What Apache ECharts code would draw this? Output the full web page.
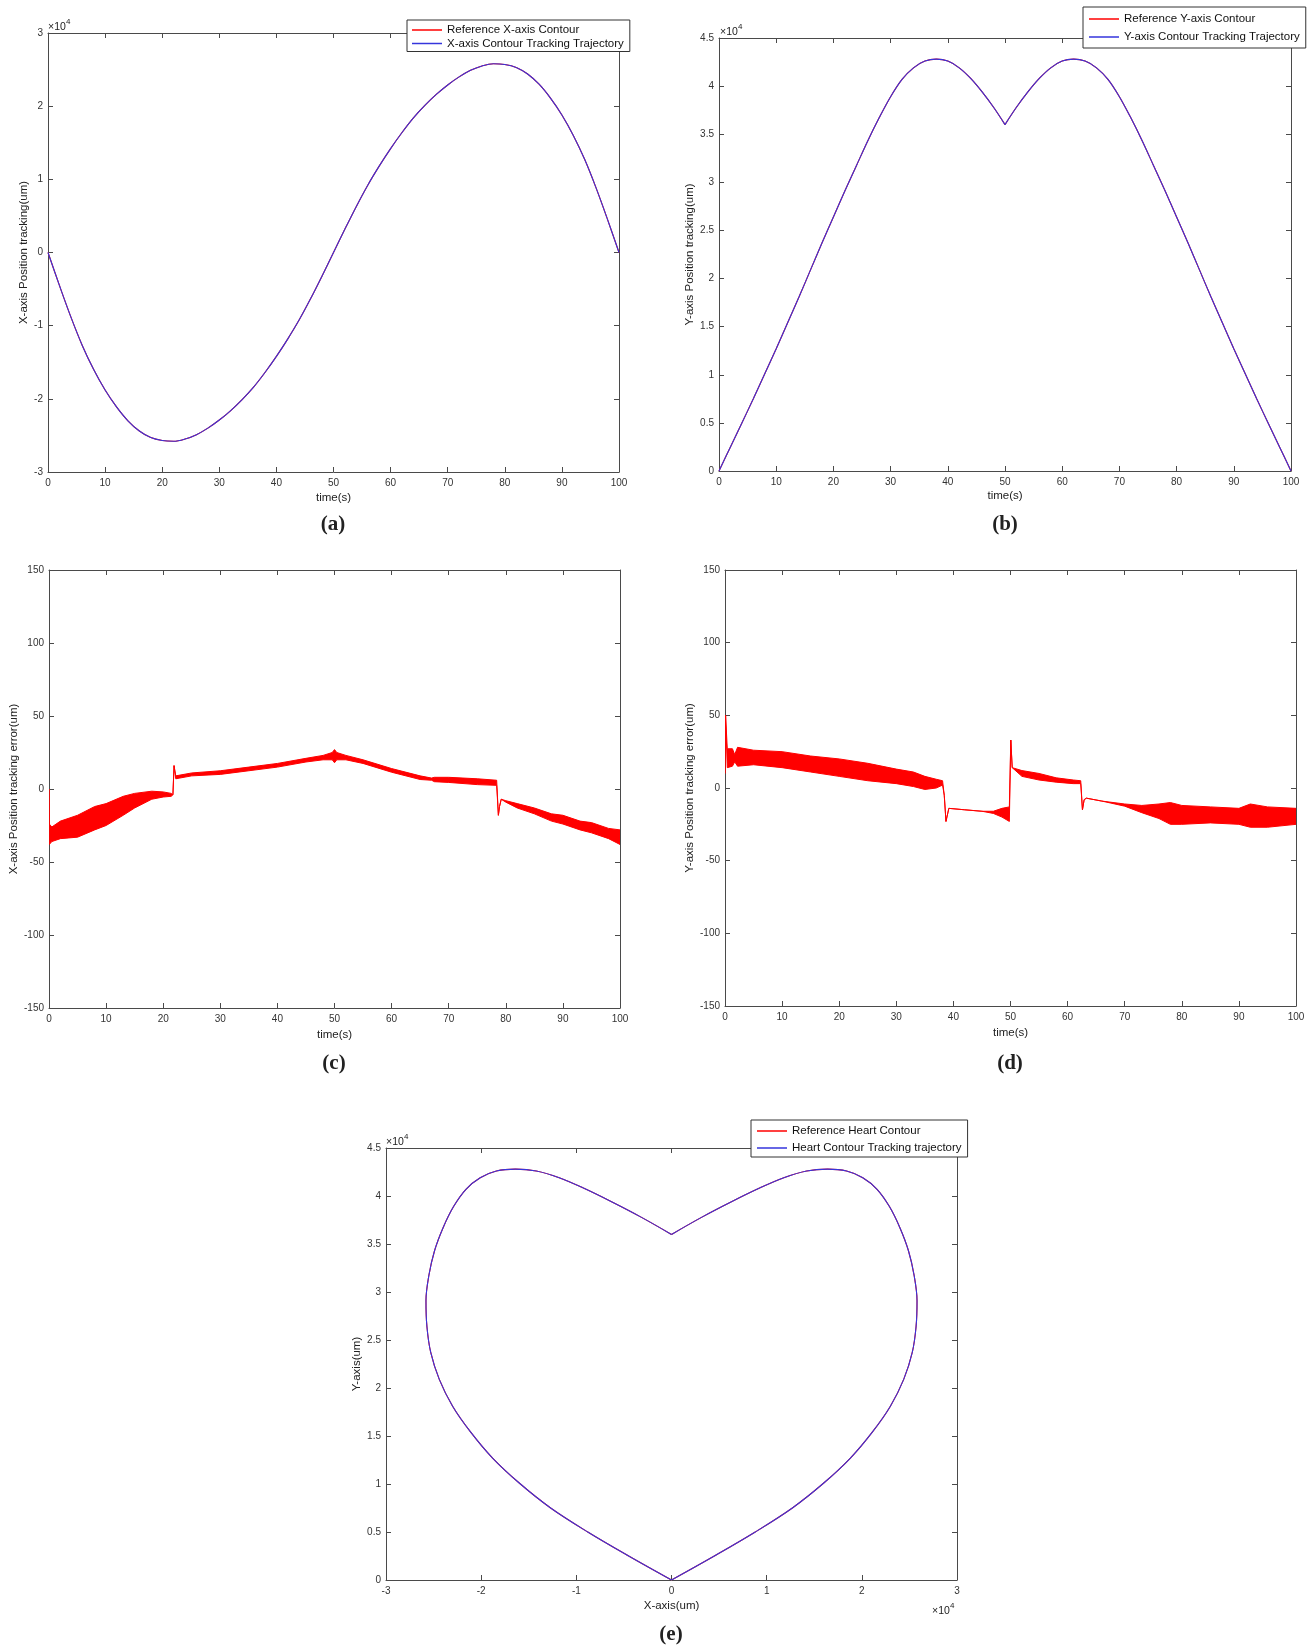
<!DOCTYPE html>
<html>
<head>
<meta charset="utf-8">
<title>Heart contour tracking</title>
<script src="https://cdn.jsdelivr.net/npm/echarts@6/dist/echarts.min.js"></script>
<style>
  html, body { margin: 0; padding: 0; background: #fff; }
  #chart { width: 1316px; height: 1652px; }
</style>
</head>
<body>
<div id="chart"></div>
<script>
// time (s) for the contour curves
const time = [0, 2, 4, 6, 8, 10, 12, 14, 16, 18, 20, 22, 24, 26, 28, 30, 32, 34, 36, 38, 40, 42, 44, 46, 48, 50,
  52, 54, 56, 58, 60, 62, 64, 66, 68, 70, 72, 74, 76, 78, 80, 82, 84, 86, 88, 90, 92, 94, 96, 98, 100];
// X-axis position (x10^4 um)
const xPos = [0, -0.45, -0.88, -1.27, -1.60, -1.88, -2.11, -2.30, -2.44, -2.53, -2.57, -2.58, -2.55, -2.49, -2.40,
  -2.29, -2.16, -2.01, -1.84, -1.64, -1.42, -1.18, -0.92, -0.63, -0.32, 0,
  0.32, 0.63, 0.92, 1.18, 1.42, 1.64, 1.84, 2.01, 2.16, 2.29, 2.40, 2.49, 2.55, 2.58, 2.57, 2.53, 2.44, 2.30,
  2.11, 1.88, 1.60, 1.27, 0.88, 0.45, 0];
// Y-axis position (x10^4 um)
const yPos = [0, 0.25, 0.50, 0.75, 1.01, 1.27, 1.54, 1.81, 2.09, 2.37, 2.64, 2.91, 3.17, 3.43, 3.67, 3.89, 4.07,
  4.19, 4.26, 4.28, 4.26, 4.19, 4.08, 3.94, 3.78, 3.60,
  3.78, 3.94, 4.08, 4.19, 4.26, 4.28, 4.26, 4.19, 4.07, 3.89, 3.67, 3.43, 3.17, 2.91, 2.64, 2.37, 2.09, 1.81,
  1.54, 1.27, 1.01, 0.75, 0.50, 0.25, 0];

// X-axis tracking error (um): upper / lower edge of the noise band
const cTime = [0, 0.05, 0.5, 2, 5, 8, 10, 13, 15, 18, 20, 21.4, 21.7, 21.9, 22.2, 25, 30, 35, 40, 45,
  48, 49.6, 50, 50.4, 52, 55, 60, 65, 67, 67.5, 70, 75, 78.4, 78.7, 78.9, 79.2, 80, 82, 85, 88,
  90, 93, 95, 98, 100];
const cUpper = [0, -24, -26, -22, -18, -12, -10, -5, -3, -1.5, -2, -3, -4, 16, 9, 11, 12.5, 15, 17.5, 21,
  23, 25, 27, 25, 23, 20, 14, 9, 7.5, 8, 8, 7, 6, -18, -12, -7, -8, -10, -13, -17,
  -18, -22, -23, -27, -28];
const cLower = [0, -38, -36, -34, -33, -28, -25, -18, -13, -7, -5.5, -5, -4, 16, 7, 9, 10, 12.5, 15, 18.5,
  20, 20, 18, 20, 20, 17.5, 11.5, 6.5, 6, 5, 4.5, 3, 2.5, -18, -12, -7, -9, -13, -17, -22,
  -24, -28, -30, -34, -38];

// Y-axis tracking error (um)
const dTime = [0, 0.1, 0.4, 1.3, 1.7, 2.2, 5, 10, 15, 20, 25, 30, 33, 35, 37, 38.1, 38.4, 38.7, 39.2, 42,
  45, 47, 48.5, 49.8, 50.05, 50.3, 52, 55, 58, 61, 62.3, 62.6, 62.9, 63.3, 66, 70, 73, 76, 78, 80,
  85, 90, 92, 95, 100];
const dUpper = [10, 50, 27, 27, 23, 28, 26, 25, 22, 20, 17, 13, 11, 8, 6, 5, -5, -23, -14, -15,
  -16, -16, -14, -13, 33, 14, 12, 10, 7, 5.5, 5, -15, -8, -7, -9, -11, -12, -11, -10, -12,
  -13, -14, -11, -13, -14];
const dLower = [10, 50, 14, 15, 18, 15, 16, 14, 11, 8, 5, 3, 1, -1, 0, 2, -5, -23, -14, -15,
  -16, -17.5, -20, -23, 33, 14, 8, 5.5, 4, 3, 3, -15, -8, -7, -9, -12.5, -17, -21, -25, -25,
  -24, -25, -27, -27, -25];

const font = '"Liberation Sans", Arial, sans-serif';
const axisCol = '#4a4a4a';
const red = '#ff0000';
const blue = '#3535dc';

const grids = [
  { left: 48, top: 33, width: 571, height: 439 },
  { left: 719, top: 38, width: 572, height: 433 },
  { left: 49, top: 570, width: 571, height: 438 },
  { left: 725, top: 570, width: 571, height: 436 },
  { left: 386, top: 1148, width: 571, height: 432 }
];

const xAxis = [];
const yAxis = [];

function frame(g, xr, yr) {
  const line = { show: true, onZero: false, lineStyle: { color: axisCol, width: 1 } };
  const tick = { show: true, inside: true, length: 5, lineStyle: { color: axisCol } };
  xAxis.push({
    type: 'value', gridIndex: g, position: 'bottom', min: xr.min, max: xr.max, interval: xr.interval,
    name: xr.name, nameLocation: 'middle', nameGap: xr.gap,
    nameTextStyle: { fontSize: 11.5, color: '#222', fontFamily: font },
    axisLine: line, axisTick: tick, splitLine: { show: false },
    axisLabel: { fontSize: 10, color: '#333', margin: 6, fontFamily: font }
  });
  xAxis.push({
    type: 'value', gridIndex: g, position: 'top', min: xr.min, max: xr.max, interval: xr.interval,
    axisLine: line, axisTick: tick, splitLine: { show: false }, axisLabel: { show: false }
  });
  yAxis.push({
    type: 'value', gridIndex: g, position: 'left', min: yr.min, max: yr.max, interval: yr.interval,
    name: yr.name, nameLocation: 'middle', nameGap: yr.gap, nameRotate: 90,
    nameTextStyle: { fontSize: 11.5, color: '#222', fontFamily: font },
    axisLine: line, axisTick: tick, splitLine: { show: false },
    axisLabel: { fontSize: 10, color: '#333', margin: 5, fontFamily: font }
  });
  yAxis.push({
    type: 'value', gridIndex: g, position: 'right', min: yr.min, max: yr.max, interval: yr.interval,
    axisLine: line, axisTick: tick, splitLine: { show: false }, axisLabel: { show: false }
  });
}

frame(0, { min: 0, max: 100, interval: 10, name: 'time(s)', gap: 20 },
  { min: -3, max: 3, interval: 1, name: 'X-axis Position tracking(um)', gap: 16 });
frame(1, { min: 0, max: 100, interval: 10, name: 'time(s)', gap: 19 },
  { min: 0, max: 4.5, interval: 0.5, name: 'Y-axis Position tracking(um)', gap: 21 });
frame(2, { min: 0, max: 100, interval: 10, name: 'time(s)', gap: 21 },
  { min: -150, max: 150, interval: 50, name: 'X-axis Position tracking error(um)', gap: 27 });
frame(3, { min: 0, max: 100, interval: 10, name: 'time(s)', gap: 21 },
  { min: -150, max: 150, interval: 50, name: 'Y-axis Position tracking error(um)', gap: 29 });
frame(4, { min: -3, max: 3, interval: 1, name: 'X-axis(um)', gap: 20 },
  { min: 0, max: 4.5, interval: 0.5, name: 'Y-axis(um)', gap: 23 });

function curve(name, g, color, data) {
  return {
    name: name, type: 'line', xAxisIndex: g * 2, yAxisIndex: g * 2, data: data,
    symbol: 'none', smooth: 0.35, lineStyle: { color: color, width: 1.1 }, itemStyle: { color: color }
  };
}

// noise band of an error signal: polygon between lower and upper edge
function band(g, t, lower, upper) {
  return {
    type: 'custom', xAxisIndex: g * 2, yAxisIndex: g * 2, clip: true,
    data: t.map((v, i) => [v, lower[i], upper[i]]),
    encode: { x: 0, y: [1, 2] },
    renderItem: function (params, api) {
      if (params.dataIndexInside !== 0) return null;
      const pts = [];
      for (let i = 0; i < t.length; i++) pts.push(api.coord([t[i], upper[i]]));
      for (let i = t.length - 1; i >= 0; i--) pts.push(api.coord([t[i], lower[i]]));
      return { type: 'polygon', shape: { points: pts },
        style: { fill: red, stroke: red, lineWidth: 1, lineJoin: 'round' } };
    }
  };
}

const half1 = time.filter(t => t <= 50).length;   // first half ends at the cusp (t = 50)
const xData = time.map((t, i) => [t, xPos[i]]);
const yData = time.map((t, i) => [t, yPos[i]]);
const heart = time.map((t, i) => [xPos[i], yPos[i]]);

const series = [
  curve('Reference X-axis Contour', 0, red, xData),
  curve('X-axis Contour Tracking Trajectory', 0, blue, xData),
  curve('Reference Y-axis Contour', 1, red, yData.slice(0, half1)),
  curve('Reference Y-axis Contour', 1, red, yData.slice(half1 - 1)),
  curve('Y-axis Contour Tracking Trajectory', 1, blue, yData.slice(0, half1)),
  curve('Y-axis Contour Tracking Trajectory', 1, blue, yData.slice(half1 - 1)),
  band(2, cTime, cLower, cUpper),
  band(3, dTime, dLower, dUpper),
  curve('Reference Heart Contour', 4, red, heart.slice(0, half1)),
  curve('Reference Heart Contour', 4, red, heart.slice(half1 - 1)),
  curve('Heart Contour Tracking trajectory', 4, blue, heart.slice(0, half1)),
  curve('Heart Contour Tracking trajectory', 4, blue, heart.slice(half1 - 1))
];

function legend(left, top, names, gap, padding) {
  return {
    orient: 'vertical', left: left, top: top, data: names, icon: 'rect',
    itemWidth: 30, itemHeight: 1.5, itemGap: gap, padding: padding,
    backgroundColor: '#fff', borderColor: '#333', borderWidth: 1, selectedMode: false,
    textStyle: { fontSize: 11.5, color: '#111', fontFamily: font }
  };
}

function txt(x, y, s, f, align) {
  return { type: 'text', x: x, y: y, z: 20,
    style: { text: s, font: f, fill: '#222', textAlign: align || 'left', textVerticalAlign: 'middle' } };
}

const capFont = 'bold 21px "Liberation Serif", "Times New Roman", serif';
const expFont = '10.5px ' + font;
const supFont = '8px ' + font;

const graphic = [
  txt(333, 525, '(a)', capFont, 'center'),
  txt(1005, 525, '(b)', capFont, 'center'),
  txt(334, 1064, '(c)', capFont, 'center'),
  txt(1010, 1064, '(d)', capFont, 'center'),
  txt(671, 1635, '(e)', capFont, 'center'),
  txt(48, 27, '\u00d710', expFont), txt(66, 22, '4', supFont),
  txt(720, 32, '\u00d710', expFont), txt(738, 27, '4', supFont),
  txt(386, 1142, '\u00d710', expFont), txt(404, 1137, '4', supFont),
  txt(932, 1611, '\u00d710', expFont), txt(950, 1606, '4', supFont)
];

const chart = echarts.init(document.getElementById('chart'), null, { renderer: 'canvas' });
chart.setOption({
  animation: false,
  backgroundColor: '#fff',
  grid: grids.map(g => Object.assign({ outerBoundsMode: 'none', containLabel: false }, g)),
  xAxis: xAxis,
  yAxis: yAxis,
  legend: [
    legend(407, 20, ['Reference X-axis Contour', 'X-axis Contour Tracking Trajectory'], 1.5, [4, 6, 2, 5]),
    legend(1083, 7, ['Reference Y-axis Contour', 'Y-axis Contour Tracking Trajectory'], 6, [6, 6, 5, 6]),
    legend(751, 1120, ['Reference Heart Contour', 'Heart Contour Tracking trajectory'], 5, [5, 6, 3, 6])
  ],
  graphic: graphic,
  series: series
});
</script>
</body>
</html>
